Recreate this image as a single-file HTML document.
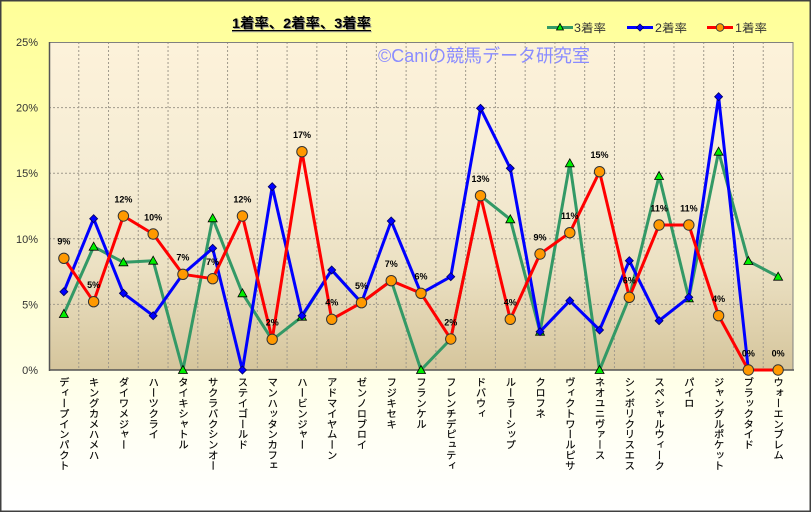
<!DOCTYPE html>
<html><head><meta charset="utf-8">
<style>
html,body{margin:0;padding:0;background:#fff;}
#c{position:relative;width:812px;height:513px;overflow:hidden;}
svg{position:absolute;left:0;top:0;}
.xl{position:absolute;top:377px;width:12px;line-height:12px;writing-mode:vertical-rl;text-orientation:mixed;white-space:nowrap;font-family:"Noto Sans CJK JP","Liberation Sans",sans-serif;font-size:10.4px;color:#000;-webkit-text-stroke:0.15px #000;}
</style></head><body>
<div id="c">
<svg width="812" height="513" viewBox="0 0 812 513" xmlns="http://www.w3.org/2000/svg">
<defs>
<linearGradient id="bg" x1="0" y1="0" x2="0" y2="1">
<stop offset="0" stop-color="#ffff99"/>
<stop offset="0.25" stop-color="#ffffab"/>
<stop offset="0.6" stop-color="#ffffd8"/>
<stop offset="0.85" stop-color="#fffff4"/>
<stop offset="1" stop-color="#ffffff"/>
</linearGradient>
<linearGradient id="pl" x1="0" y1="0" x2="0" y2="1">
<stop offset="0" stop-color="#fdf2da"/>
<stop offset="0.4" stop-color="#f5ecd4"/>
<stop offset="0.7" stop-color="#ebe0c2"/>
<stop offset="1" stop-color="#d5c59c"/>
</linearGradient>
</defs>
<rect x="0" y="0" width="812" height="513" fill="#fff"/>
<rect x="0.75" y="0.75" width="809.5" height="510.5" fill="url(#bg)" stroke="#404040" stroke-width="1.5"/>

<!-- plot area -->
<rect x="49" y="42" width="744" height="328" fill="url(#pl)"/>
<g stroke="#a09a8c" stroke-width="1" stroke-dasharray="2,2" fill="none">
<line x1="49" y1="107.6" x2="793" y2="107.6"/>
<line x1="49" y1="173.2" x2="793" y2="173.2"/>
<line x1="49" y1="238.8" x2="793" y2="238.8"/>
<line x1="49" y1="304.4" x2="793" y2="304.4"/>
<line x1="78.76" y1="42" x2="78.76" y2="370"/>
<line x1="108.52" y1="42" x2="108.52" y2="370"/>
<line x1="138.28" y1="42" x2="138.28" y2="370"/>
<line x1="168.04" y1="42" x2="168.04" y2="370"/>
<line x1="197.8" y1="42" x2="197.8" y2="370"/>
<line x1="227.56" y1="42" x2="227.56" y2="370"/>
<line x1="257.32" y1="42" x2="257.32" y2="370"/>
<line x1="287.08" y1="42" x2="287.08" y2="370"/>
<line x1="316.84" y1="42" x2="316.84" y2="370"/>
<line x1="346.6" y1="42" x2="346.6" y2="370"/>
<line x1="376.36" y1="42" x2="376.36" y2="370"/>
<line x1="406.12" y1="42" x2="406.12" y2="370"/>
<line x1="435.88" y1="42" x2="435.88" y2="370"/>
<line x1="465.64" y1="42" x2="465.64" y2="370"/>
<line x1="495.4" y1="42" x2="495.4" y2="370"/>
<line x1="525.16" y1="42" x2="525.16" y2="370"/>
<line x1="554.92" y1="42" x2="554.92" y2="370"/>
<line x1="584.68" y1="42" x2="584.68" y2="370"/>
<line x1="614.44" y1="42" x2="614.44" y2="370"/>
<line x1="644.2" y1="42" x2="644.2" y2="370"/>
<line x1="673.96" y1="42" x2="673.96" y2="370"/>
<line x1="703.72" y1="42" x2="703.72" y2="370"/>
<line x1="733.48" y1="42" x2="733.48" y2="370"/>
<line x1="763.24" y1="42" x2="763.24" y2="370"/>
</g>
<rect x="49.5" y="42.5" width="743.5" height="327.5" fill="none" stroke="#808080" stroke-width="1"/>
<line x1="49.5" y1="42" x2="49.5" y2="371" stroke="#555" stroke-width="1.5"/>
<line x1="49" y1="370" x2="794" y2="370" stroke="#555" stroke-width="1.5"/>

<!-- watermark -->
<text x="378" y="62" font-family="Liberation Sans, Noto Sans CJK JP, sans-serif" font-size="18" fill="#8a8cff" textLength="212" lengthAdjust="spacingAndGlyphs">©Caniの競馬データ研究室</text>

<!-- title -->
<text x="233" y="29" font-family="Liberation Sans, Noto Sans CJK JP, sans-serif" font-size="14" font-weight="bold" fill="#999" textLength="139" lengthAdjust="spacingAndGlyphs">1着率、2着率、3着率</text>
<text x="232" y="28" font-family="Liberation Sans, Noto Sans CJK JP, sans-serif" font-size="14" font-weight="bold" fill="#000" textLength="139" lengthAdjust="spacingAndGlyphs">1着率、2着率、3着率</text>
<line x1="232" y1="31.8" x2="372" y2="31.8" stroke="#aaa" stroke-width="1"/>
<line x1="232" y1="30.6" x2="371" y2="30.6" stroke="#000" stroke-width="1.2"/>

<!-- legend -->
<line x1="547" y1="27.5" x2="573" y2="27.5" stroke="#339966" stroke-width="3"/>
<polygon points="560,23.5 556.5,30 563.5,30" fill="#00ee00" stroke="#000" stroke-width="0.8"/>
<text x="574" y="32" font-family="Liberation Sans, Noto Sans CJK JP, sans-serif" font-size="11.5" fill="#333" textLength="32" lengthAdjust="spacingAndGlyphs">3着率</text>
<line x1="627" y1="27.5" x2="653" y2="27.5" stroke="#0000ff" stroke-width="3"/>
<polygon points="640,24 643.5,27.5 640,31 636.5,27.5" fill="#0000ff" stroke="#000060" stroke-width="0.8"/>
<text x="655" y="32" font-family="Liberation Sans, Noto Sans CJK JP, sans-serif" font-size="11.5" fill="#333" textLength="32" lengthAdjust="spacingAndGlyphs">2着率</text>
<line x1="707" y1="27.5" x2="733" y2="27.5" stroke="#ff0000" stroke-width="3"/>
<circle cx="720" cy="27.5" r="3.8" fill="#ff9900" stroke="#333" stroke-width="0.9"/>
<text x="735" y="32" font-family="Liberation Sans, Noto Sans CJK JP, sans-serif" font-size="11.5" fill="#333" textLength="32" lengthAdjust="spacingAndGlyphs">1着率</text>

<!-- y labels -->
<g font-family="Liberation Sans, sans-serif" font-size="11" fill="#333" text-anchor="end">
<text x="38" y="46">25%</text>
<text x="38" y="111.6">20%</text>
<text x="38" y="177.2">15%</text>
<text x="38" y="242.8">10%</text>
<text x="38" y="308.4">5%</text>
<text x="38" y="374">0%</text>
</g>

<!-- green 3着 -->
<polyline fill="none" stroke="#339966" stroke-width="3" stroke-linejoin="round" points="63.88,314 93.64,246.7 123.4,262.3 153.16,260.7 182.92,370 212.68,218.3 242.44,293.3 272.2,340 301.96,316.7 331.72,270 361.48,302.7 391.24,280.7 421,370 450.76,339 480.52,195.7 510.28,219.3 540.04,331.7 569.8,163.3 599.56,370 629.32,297.3 659.08,176 688.84,298.3 718.6,151.7 748.36,261 778.12,276.7"/>
<g fill="#00ee00" stroke="#000" stroke-width="0.8">
<polygon points="63.88,309.5 59.38,317.5 68.38,317.5"/>
<polygon points="93.64,242.2 89.14,250.2 98.14,250.2"/>
<polygon points="123.4,257.8 118.9,265.8 127.9,265.8"/>
<polygon points="153.16,256.2 148.66,264.2 157.66,264.2"/>
<polygon points="182.92,365.5 178.42,373.5 187.42,373.5"/>
<polygon points="212.68,213.8 208.18,221.8 217.18,221.8"/>
<polygon points="242.44,288.8 237.94,296.8 246.94,296.8"/>
<polygon points="301.96,312.2 297.46,320.2 306.46,320.2"/>
<polygon points="421,365.5 416.5,373.5 425.5,373.5"/>
<polygon points="510.28,214.8 505.78,222.8 514.78,222.8"/>
<polygon points="540.04,327.2 535.54,335.2 544.54,335.2"/>
<polygon points="569.8,158.8 565.3,166.8 574.3,166.8"/>
<polygon points="599.56,365.5 595.06,373.5 604.06,373.5"/>
<polygon points="659.08,171.5 654.58,179.5 663.58,179.5"/>
<polygon points="688.84,293.8 684.34,301.8 693.34,301.8"/>
<polygon points="718.6,147.2 714.1,155.2 723.1,155.2"/>
<polygon points="748.36,256.5 743.86,264.5 752.86,264.5"/>
<polygon points="778.12,272.2 773.62,280.2 782.62,280.2"/>
</g>

<!-- blue 2着 -->
<polyline fill="none" stroke="#0000ff" stroke-width="3" stroke-linejoin="round" points="63.88,291.7 93.64,218.7 123.4,293.3 153.16,315.7 182.92,274 212.68,248.3 242.44,370 272.2,186.7 301.96,315.7 331.72,270 361.48,302.7 391.24,221 421,293.3 450.76,276.7 480.52,108.3 510.28,168.3 540.04,331.7 569.8,300.7 599.56,330 629.32,260.7 659.08,320.7 688.84,297.3 718.6,96.7 748.36,370"/>
<g fill="#0000ff" stroke="#000060" stroke-width="0.8">
<polygon points="63.88,287.7 67.88,291.7 63.88,295.7 59.88,291.7"/>
<polygon points="93.64,214.7 97.64,218.7 93.64,222.7 89.64,218.7"/>
<polygon points="123.4,289.3 127.4,293.3 123.4,297.3 119.4,293.3"/>
<polygon points="153.16,311.7 157.16,315.7 153.16,319.7 149.16,315.7"/>
<polygon points="182.92,270 186.92,274 182.92,278 178.92,274"/>
<polygon points="212.68,244.3 216.68,248.3 212.68,252.3 208.68,248.3"/>
<polygon points="242.44,366 246.44,370 242.44,374 238.44,370"/>
<polygon points="272.2,182.7 276.2,186.7 272.2,190.7 268.2,186.7"/>
<polygon points="301.96,311.7 305.96,315.7 301.96,319.7 297.96,315.7"/>
<polygon points="331.72,266 335.72,270 331.72,274 327.72,270"/>
<polygon points="361.48,298.7 365.48,302.7 361.48,306.7 357.48,302.7"/>
<polygon points="391.24,217 395.24,221 391.24,225 387.24,221"/>
<polygon points="421,289.3 425,293.3 421,297.3 417,293.3"/>
<polygon points="450.76,272.7 454.76,276.7 450.76,280.7 446.76,276.7"/>
<polygon points="480.52,104.3 484.52,108.3 480.52,112.3 476.52,108.3"/>
<polygon points="510.28,164.3 514.28,168.3 510.28,172.3 506.28,168.3"/>
<polygon points="540.04,327.7 544.04,331.7 540.04,335.7 536.04,331.7"/>
<polygon points="569.8,296.7 573.8,300.7 569.8,304.7 565.8,300.7"/>
<polygon points="599.56,326 603.56,330 599.56,334 595.56,330"/>
<polygon points="629.32,256.7 633.32,260.7 629.32,264.7 625.32,260.7"/>
<polygon points="659.08,316.7 663.08,320.7 659.08,324.7 655.08,320.7"/>
<polygon points="688.84,293.3 692.84,297.3 688.84,301.3 684.84,297.3"/>
<polygon points="718.6,92.7 722.6,96.7 718.6,100.7 714.6,96.7"/>
<polygon points="748.36,366 752.36,370 748.36,374 744.36,370"/>
</g>

<!-- red 1着 -->
<polyline fill="none" stroke="#ff0000" stroke-width="3" stroke-linejoin="round" points="63.88,258.3 93.64,301.7 123.4,216 153.16,234 182.92,274.3 212.68,278.7 242.44,216 272.2,339.3 301.96,151.7 331.72,319.3 361.48,302.7 391.24,280.7 421,293.3 450.76,339 480.52,195.7 510.28,319.3 540.04,254 569.8,232.7 599.56,171.7 629.32,297.3 659.08,225 688.84,225 718.6,315.7 748.36,370 778.12,370"/>
<g fill="#ff9900" stroke="#333" stroke-width="1">
<circle cx="63.88" cy="258.3" r="5.2"/>
<circle cx="93.64" cy="301.7" r="5.2"/>
<circle cx="123.4" cy="216" r="5.2"/>
<circle cx="153.16" cy="234" r="5.2"/>
<circle cx="182.92" cy="274.3" r="5.2"/>
<circle cx="212.68" cy="278.7" r="5.2"/>
<circle cx="242.44" cy="216" r="5.2"/>
<circle cx="272.2" cy="339.3" r="5.2"/>
<circle cx="301.96" cy="151.7" r="5.2"/>
<circle cx="331.72" cy="319.3" r="5.2"/>
<circle cx="361.48" cy="302.7" r="5.2"/>
<circle cx="391.24" cy="280.7" r="5.2"/>
<circle cx="421" cy="293.3" r="5.2"/>
<circle cx="450.76" cy="339" r="5.2"/>
<circle cx="480.52" cy="195.7" r="5.2"/>
<circle cx="510.28" cy="319.3" r="5.2"/>
<circle cx="540.04" cy="254" r="5.2"/>
<circle cx="569.8" cy="232.7" r="5.2"/>
<circle cx="599.56" cy="171.7" r="5.2"/>
<circle cx="629.32" cy="297.3" r="5.2"/>
<circle cx="659.08" cy="225" r="5.2"/>
<circle cx="688.84" cy="225" r="5.2"/>
<circle cx="718.6" cy="315.7" r="5.2"/>
<circle cx="748.36" cy="370" r="5.2"/>
<circle cx="778.12" cy="370" r="5.2"/>
</g>

<!-- data labels -->
<g font-family="Liberation Sans, sans-serif" font-size="9" font-weight="bold" fill="#000" text-anchor="middle">
<text x="63.88" y="244.6">9%</text>
<text x="93.64" y="288">5%</text>
<text x="123.4" y="202.3">12%</text>
<text x="153.16" y="220.3">10%</text>
<text x="182.92" y="260.6">7%</text>
<text x="212.68" y="265">7%</text>
<text x="242.44" y="202.3">12%</text>
<text x="272.2" y="325.6">2%</text>
<text x="301.96" y="138">17%</text>
<text x="331.72" y="305.6">4%</text>
<text x="361.48" y="289">5%</text>
<text x="391.24" y="267">7%</text>
<text x="421" y="279.6">6%</text>
<text x="450.76" y="325.3">2%</text>
<text x="480.52" y="182">13%</text>
<text x="510.28" y="305.6">4%</text>
<text x="540.04" y="240.3">9%</text>
<text x="569.8" y="219">11%</text>
<text x="599.56" y="158">15%</text>
<text x="629.32" y="283.6">6%</text>
<text x="659.08" y="211.3">11%</text>
<text x="688.84" y="211.3">11%</text>
<text x="718.6" y="302">4%</text>
<text x="748.36" y="356.3">0%</text>
<text x="778.12" y="356.3">0%</text>
</g>
</svg>

<div class="xl" style="left:57.88px">ディープインパクト</div>
<div class="xl" style="left:87.64px">キングカメハメハ</div>
<div class="xl" style="left:117.4px">ダイワメジャー</div>
<div class="xl" style="left:147.16px">ハーツクライ</div>
<div class="xl" style="left:176.92px">タイキシャトル</div>
<div class="xl" style="left:206.68px">サクラバクシンオー</div>
<div class="xl" style="left:236.44px">ステイゴールド</div>
<div class="xl" style="left:266.2px">マンハッタンカフェ</div>
<div class="xl" style="left:295.96px">ハービンジャー</div>
<div class="xl" style="left:325.72px">アドマイヤムーン</div>
<div class="xl" style="left:355.48px">ゼンノロブロイ</div>
<div class="xl" style="left:385.24px">フジキセキ</div>
<div class="xl" style="left:415px">フランケル</div>
<div class="xl" style="left:444.76px">フレンチデピュティ</div>
<div class="xl" style="left:474.52px">ドバウィ</div>
<div class="xl" style="left:504.28px">ルーラーシップ</div>
<div class="xl" style="left:534.04px">クロフネ</div>
<div class="xl" style="left:563.8px">ヴィクトワールピサ</div>
<div class="xl" style="left:593.56px">ネオユニヴァース</div>
<div class="xl" style="left:623.32px">シンボリクリスエス</div>
<div class="xl" style="left:653.08px">スペシャルウィーク</div>
<div class="xl" style="left:682.84px">パイロ</div>
<div class="xl" style="left:712.6px">ジャングルポケット</div>
<div class="xl" style="left:742.36px">ブラックタイド</div>
<div class="xl" style="left:772.12px">ウォーエンブレム</div>
</div>
</body></html>
